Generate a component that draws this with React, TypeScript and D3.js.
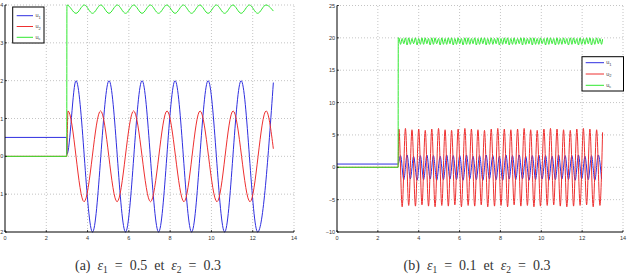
import React from 'react';
import * as d3 from 'd3';

const W = 629;
const H = 278;

// ---- panel (a) : eps1 = 0.5, eps2 = 0.3 ----
const aXTicks = [0, 2, 4, 6, 8, 10, 12, 14];
const aYTicks = [4, 3, 2, 1, 0, -1, -2];
const aYTickLabels = ['4', '3', '2', '1', '0', '1', '2'];

const aU1T = [0, 2.99, 3.0, 3.44, 4.24, 5.04, 5.84, 6.64, 7.44, 8.24, 9.04, 9.84, 10.64, 11.44, 12.24, 13.0];
const aU1 = [0.5, 0.5, 0.05, 2, -2, 2, -2, 2, -2, 2, -2, 2, -2, 2, -2, 1.95];

const aU2T = [0, 2.99, 3.05, 3.83, 4.63, 5.43, 6.23, 7.05, 7.85, 8.67, 9.45, 10.27, 11.05, 11.87, 12.65, 13.0];
const aU2 = [0, 0, 1.2, -1.2, 1.2, -1.2, 1.2, -1.2, 1.2, -1.2, 1.2, -1.2, 1.2, -1.2, 1.2, 0.2];

const aUoT = [0, 2.99, 3.0, 3.44, 3.84, 4.24, 4.64, 5.04, 5.44, 5.84, 6.24, 6.64, 7.04, 7.44, 7.84,
  8.24, 8.64, 9.04, 9.44, 9.84, 10.24, 10.64, 11.04, 11.44, 11.84, 12.24, 12.64, 13.0];
const aUo = [0, 0, 4.0, 3.78, 4.0, 3.78, 4.0, 3.78, 4.0, 3.78, 4.0, 3.78, 4.0, 3.78, 4.0,
  3.78, 4.0, 3.78, 4.0, 3.78, 4.0, 3.78, 4.0, 3.78, 4.0, 3.78, 4.0, 3.84];

// ---- panel (b) : eps1 = 0.1, eps2 = 0.3 ----
const bXTicks = [0, 2, 4, 6, 8, 10, 12, 14];
const bYTicks = [25, 20, 15, 10, 5, 0, -5, -10];
const bYTickLabels = ['25', '20', '15', '10', '5', '0', '\u22125', '\u221210'];

// values before the step at t = 3
const bPreT = [0, 2.99];
const bPreU1 = [0.5, 0.5];
const bPreU2 = [0, 0];
const bPreUo = [0, 0];
const bStepUo = 20.0;

// extrema of u2 (red)
const bRedT = [3.03, 3.19, 3.35, 3.51, 3.67, 3.84, 4.00, 4.16, 4.32, 4.48,
  4.64, 4.80, 4.97, 5.13, 5.29, 5.45, 5.61, 5.77, 5.93, 6.09,
  6.26, 6.42, 6.58, 6.74, 6.90, 7.06, 7.22, 7.38, 7.55, 7.71,
  7.87, 8.03, 8.19, 8.35, 8.51, 8.67, 8.84, 9.00, 9.16, 9.32,
  9.48, 9.64, 9.80, 9.96, 10.13, 10.29, 10.45, 10.61, 10.77, 10.93,
  11.09, 11.25, 11.42, 11.58, 11.74, 11.90, 12.06, 12.22, 12.38, 12.54,
  12.71, 12.87, 13.0];
const bRed = [5.9, -6.1, 6.0, -5.9, 5.8, -6.0, 5.9, -5.8, 5.7, -6.0,
  5.9, -6.1, 6.0, -5.9, 5.8, -6.0, 5.7, -5.8, 5.9, -6.1,
  6.0, -5.9, 5.9, -6.0, 5.8, -5.8, 5.7, -6.1, 5.9, -6.0,
  6.0, -5.9, 5.9, -6.1, 5.8, -5.8, 5.9, -6.0, 6.0, -5.9,
  5.8, -6.1, 5.7, -6.0, 5.9, -5.9, 6.0, -5.8, 5.9, -6.0,
  5.8, -6.1, 5.7, -6.0, 5.9, -5.9, 6.0, -5.8, 5.9, -6.1,
  5.8, -5.9, 5.4];

// extrema of u1 (blue)
const bBlueT = [3.11, 3.27, 3.43, 3.59, 3.75, 3.92, 4.08, 4.24, 4.40, 4.56,
  4.72, 4.88, 5.05, 5.21, 5.37, 5.53, 5.69, 5.85, 6.01, 6.17,
  6.34, 6.50, 6.66, 6.82, 6.98, 7.14, 7.30, 7.46, 7.63, 7.79,
  7.95, 8.11, 8.27, 8.43, 8.59, 8.75, 8.92, 9.08, 9.24, 9.40,
  9.56, 9.72, 9.88, 10.04, 10.21, 10.37, 10.53, 10.69, 10.85, 11.01,
  11.17, 11.33, 11.50, 11.66, 11.82, 11.98, 12.14, 12.30, 12.46, 12.62,
  12.79, 12.95];
const bBlue = [1.8, -1.9, 1.9, -1.8, 1.7, -2.0, 1.8, -1.9, 1.9, -1.8,
  1.8, -2.0, 1.7, -1.9, 1.9, -1.8, 1.8, -1.9, 1.8, -2.0,
  1.9, -1.8, 1.7, -1.9, 1.8, -2.0, 1.9, -1.8, 1.8, -1.9,
  1.7, -2.0, 1.9, -1.8, 1.8, -1.9, 1.9, -1.8, 1.7, -2.0,
  1.8, -1.9, 1.9, -1.8, 1.8, -2.0, 1.7, -1.9, 1.9, -1.8,
  1.8, -1.9, 1.8, -2.0, 1.9, -1.8, 1.7, -1.9, 1.8, -2.0,
  1.9, -1.8];

// uo (green): highs at the red extrema, lows at the blue extrema
const bGreenHigh = [20.0, 19.9, 20.0, 20.0, 19.9, 20.0, 19.9, 20.0, 20.0, 19.9,
  20.0, 20.0, 19.9, 20.0, 19.9, 20.0, 20.0, 19.9, 20.0, 19.9,
  20.0, 20.0, 19.9, 20.0, 19.9, 20.0, 20.0, 19.9, 20.0, 19.9,
  20.0, 19.9, 20.0, 20.0, 19.9, 20.0, 19.9, 20.0, 20.0, 19.9,
  20.0, 20.0, 19.9, 20.0, 19.9, 20.0, 20.0, 19.9, 20.0, 19.9,
  20.0, 19.9, 20.0, 20.0, 19.9, 20.0, 19.9, 20.0, 20.0, 19.9,
  20.0, 19.9, 19.8];
const bGreenLow = [19.0, 19.1, 18.9, 19.0, 19.1, 18.9, 19.0, 19.0, 19.1, 18.9,
  19.0, 19.1, 18.9, 19.0, 19.0, 19.1, 18.9, 19.0, 19.1, 18.9,
  19.0, 19.0, 19.1, 18.9, 19.0, 19.1, 18.9, 19.0, 19.0, 19.1,
  18.9, 19.0, 19.1, 18.9, 19.0, 19.0, 19.1, 18.9, 19.0, 19.1,
  18.9, 19.0, 19.0, 19.1, 18.9, 19.0, 19.1, 18.9, 19.0, 19.0,
  19.1, 18.9, 19.0, 19.1, 18.9, 19.0, 19.0, 19.1, 18.9, 19.0,
  19.1, 19.0];

const legendNames = ['1', '2', 'c'];
const colors = ['#2f2fe0', '#ee3030', '#30e830'];

type Pt = [number, number];
const zip = (t: number[], v: number[]): Pt[] => t.map((d, i) => [d, v[i]] as Pt);

const aSeries: Pt[][] = [zip(aU1T, aU1), zip(aU2T, aU2), zip(aUoT, aUo)];

const bSeries: Pt[][] = [
  [...zip(bPreT, bPreU1), ...zip(bBlueT, bBlue)],
  [...zip(bPreT, bPreU2), ...zip(bRedT, bRed)],
  [...zip(bPreT, bPreUo), [3.0, bStepUo] as Pt,
    ...[...zip(bRedT, bGreenHigh), ...zip(bBlueT, bGreenLow)].sort((p, q) => p[0] - q[0])],
];

const tickFont = 'Liberation Sans, Arial, sans-serif';

const Panel = ({ xDomain, yDomain, xRange, yRange, xTicks, yTicks, yTickLabels, series, legend }: any) => {
  const x = d3.scaleLinear().domain(xDomain).range(xRange);
  const y = d3.scaleLinear().domain(yDomain).range(yRange);
  const line = d3.line<Pt>().x(d => x(d[0])).y(d => y(d[1])).curve(d3.curveMonotoneX);
  const [x0, x1] = xRange;
  const [yb, yt] = yRange;
  return (
    <g>
      {/* grid */}
      {xTicks.slice(1).map((t: number) => (
        <line key={'gx' + t} x1={x(t)} x2={x(t)} y1={yb} y2={yt} stroke="#aaa" strokeWidth={0.7} strokeDasharray="1 2" />
      ))}
      {yTicks.slice(0, -1).map((t: number) => (
        <line key={'gy' + t} x1={x0} x2={x1} y1={y(t)} y2={y(t)} stroke="#aaa" strokeWidth={0.7} strokeDasharray="1 2" />
      ))}
      {/* curves */}
      {series.map((s: Pt[], i: number) => (
        <path key={'s' + i} d={line(s) || ''} fill="none" stroke={colors[i]} strokeWidth={1} />
      ))}
      {/* axes */}
      <line x1={x0} x2={x0} y1={yb} y2={yt} stroke="#000" strokeWidth={1} />
      <line x1={x0} x2={x1} y1={yb} y2={yb} stroke="#000" strokeWidth={1} />
      {xTicks.map((t: number) => (
        <g key={'tx' + t}>
          <line x1={x(t)} x2={x(t)} y1={yb} y2={yb - 2} stroke="#000" strokeWidth={0.7} />
          <text x={x(t)} y={239.5} fontSize={5.5} fontFamily={tickFont} textAnchor="middle" fill="#333">{t}</text>
        </g>
      ))}
      {yTicks.map((t: number, i: number) => (
        <g key={'ty' + t}>
          <line x1={x0} x2={x0 + 2} y1={y(t)} y2={y(t)} stroke="#000" strokeWidth={0.7} />
          <text x={x0 - 1.8} y={y(t) + 2} fontSize={5.5} fontFamily={tickFont} textAnchor="end" fill="#333">{yTickLabels[i]}</text>
        </g>
      ))}
      {/* legend */}
      <rect x={legend.x} y={legend.y} width={legend.w} height={legend.h} fill="#fff" stroke="#000" strokeWidth={1} />
      {legendNames.map((n, i) => {
        const ly = legend.y + legend.pad + i * legend.step;
        return (
          <g key={'lg' + n}>
            <line x1={legend.lx0} x2={legend.lx1} y1={ly} y2={ly} stroke={colors[i]} strokeWidth={1} />
            <text x={legend.tx} y={ly + 1.5} fontSize={5.5} fontFamily={tickFont} fill="#444">
              u<tspan fontSize={4} dy={1.5}>{n}</tspan>
            </text>
          </g>
        );
      })}
    </g>
  );
};

const Caption = ({ cx, label, e1 }: { cx: number; label: string; e1: string }) => (
  <text x={cx} y={269.5} fontSize={14} fontFamily="Liberation Serif, DejaVu Serif, serif"
    textAnchor="middle" fill="#333" style={{ whiteSpace: 'pre' }}>
    {`(${label})  `}<tspan fontStyle="italic">ε</tspan><tspan fontSize={9.5} dy={3}>1</tspan>
    <tspan dy={-3}>{`  =  ${e1}  et  `}</tspan>
    <tspan fontStyle="italic">ε</tspan><tspan fontSize={9.5} dy={3}>2</tspan>
    <tspan dy={-3}>{'  =  0.3'}</tspan>
  </text>
);

export default function App() {
  return (
    <svg width={W} height={H} style={{ position: 'absolute', left: 0, top: 0, background: '#fff' }}>
      <Panel
        xDomain={[0, 14]} yDomain={[-2, 4]} xRange={[5, 294]} yRange={[232, 5]}
        xTicks={aXTicks} yTicks={aYTicks} yTickLabels={aYTickLabels} series={aSeries}
        legend={{ x: 12.7, y: 7, w: 31.3, h: 36, pad: 8.7, step: 10.8, lx0: 16.7, lx1: 33, tx: 35.5 }}
      />
      <Panel
        xDomain={[0, 14]} yDomain={[-10, 25]} xRange={[337, 623]} yRange={[232, 5.5]}
        xTicks={bXTicks} yTicks={bYTicks} yTickLabels={bYTickLabels} series={bSeries}
        legend={{ x: 582, y: 56.7, w: 41.5, h: 34.3, pad: 6, step: 11.3, lx0: 585.7, lx1: 604, tx: 606.2 }}
      />
      <Caption cx={148} label="a" e1="0.5" />
      <Caption cx={477} label="b" e1="0.1" />
    </svg>
  );
}
